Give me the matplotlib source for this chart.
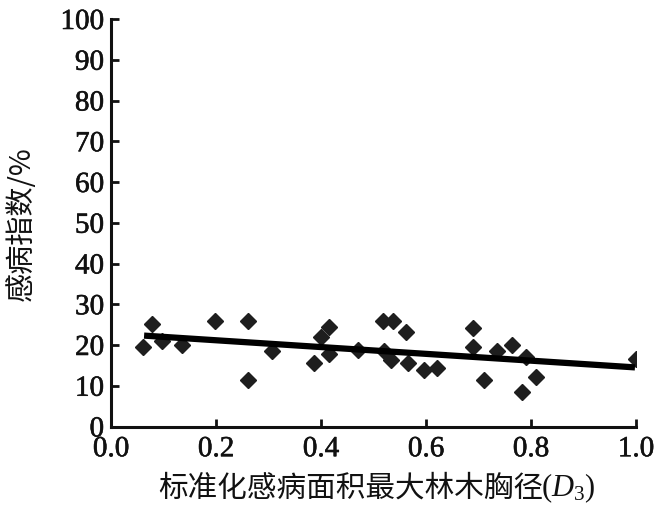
import matplotlib
matplotlib.use("Agg")
import matplotlib.pyplot as plt
import matplotlib.patheffects as pe
import numpy as np

# ---- data ----
x_vals = [0.060, 0.079, 0.097, 0.136, 0.198, 0.260, 0.260, 0.307,
          0.387, 0.400, 0.415, 0.416, 0.470, 0.518, 0.537, 0.562,
          0.520, 0.534, 0.565, 0.597, 0.620, 0.690, 0.690, 0.711,
          0.736, 0.763, 0.791, 0.810, 0.782, 1.000]
y_vals = [19.5, 25.2, 20.9, 20.1, 25.8, 25.8, 11.4, 18.5,
          15.5, 21.9, 24.4, 17.8, 18.8, 26.0, 26.0, 23.1,
          18.6, 16.2, 15.5, 13.9, 14.4, 24.2, 19.5, 11.3,
          18.6, 19.9, 17.0, 12.2, 8.4, 16.6]
fit_slope = -8.34
fit_intercept = 22.83
fit_x_range = [0.063, 0.998]
x_ticks = [0.0, 0.2, 0.4, 0.6, 0.8, 1.0]
x_tick_labels = ["0.0", "0.2", "0.4", "0.6", "0.8", "1.0"]
y_ticks = [0, 10, 20, 30, 40, 50, 60, 70, 80, 90, 100]
y_label = "感病指数/%"
x_label_cn = "标准化感病面积最大林木胸径"

plt.rcParams['mathtext.fontset'] = 'custom'
plt.rcParams['mathtext.rm'] = 'Liberation Serif'
plt.rcParams['mathtext.it'] = 'Liberation Serif:italic'

serif = ['Liberation Serif', 'DejaVu Serif']
cjk = ['Noto Sans CJK SC', 'DejaVu Sans']
ink = '#111111'
thick = [pe.withStroke(linewidth=0.4, foreground=ink)]

fig = plt.figure(figsize=(6.59, 5.06), dpi=100)
ax = fig.add_axes([111 / 659, 78.5 / 506, 525 / 659, 407.5 / 506])

ax.plot(x_vals, y_vals, linestyle='none', marker='D', markersize=8.5,
        color='#1e1e1e', markeredgecolor='#1e1e1e', zorder=3)
fx = np.array(fit_x_range)
ax.plot(fx, fit_intercept + fit_slope * fx, color='black', linewidth=4.5,
        solid_capstyle='butt', zorder=4)

ax.set_xlim(0, 1.0)
ax.set_ylim(0, 100)
for s in ['top', 'right']:
    ax.spines[s].set_visible(False)
for s in ['left', 'bottom']:
    ax.spines[s].set_linewidth(2.2)
    ax.spines[s].set_color(ink)

ax.set_xticks(x_ticks)
ax.set_xticklabels(x_tick_labels, fontfamily=serif, fontsize=21)
ax.set_yticks(y_ticks)
ax.set_yticklabels([str(v) for v in y_ticks], fontfamily=serif, fontsize=21)
ax.tick_params(axis='x', direction='in', length=6, width=2, pad=7, colors=ink)
ax.tick_params(axis='y', direction='in', length=6, width=2, pad=5, colors=ink)
for lab in ax.get_xticklabels() + ax.get_yticklabels():
    lab.set_path_effects(thick)

fig.text(22 / 659, 1 - 224 / 506, y_label, fontfamily=cjk, fontsize=21,
         rotation=90, ha='center', va='center', color=ink)

fig.text(158 / 659, 9.5 / 506, x_label_cn, fontfamily=cjk, fontsize=21.3,
         va='baseline', ha='left', color=ink)
fig.text(541 / 659, 9.5 / 506, r'$(D_3)$', va='baseline', ha='left',
         fontsize=22, color=ink)

fig.savefig('out.png', dpi=100)
